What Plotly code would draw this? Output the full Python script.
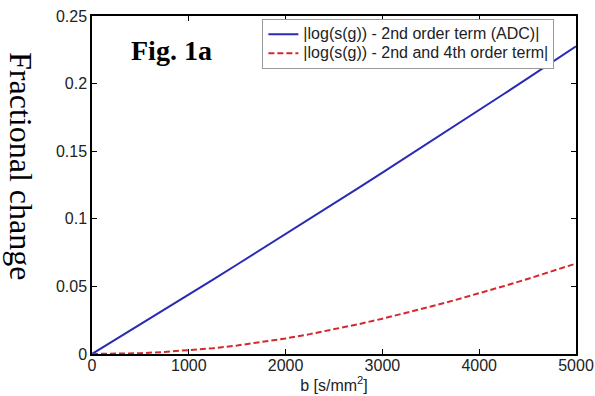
import plotly.graph_objects as go

b_values = [0, 250, 500, 750, 1000, 1250, 1500, 1750, 2000, 2250, 2500,
            2750, 3000, 3250, 3500, 3750, 4000, 4250, 4500, 4750, 5000]
adc_term = [0, 0.0109, 0.0219, 0.0329, 0.0439, 0.0550, 0.0662, 0.0774, 0.0886, 0.0999, 0.1113,
            0.1227, 0.1341, 0.1456, 0.1572, 0.1688, 0.1804, 0.1921, 0.2039, 0.2157, 0.2275]
fourth_term = [0, 0.0001, 0.0006, 0.0015, 0.0027, 0.0043, 0.0063, 0.0087, 0.0115, 0.0147, 0.0182,
               0.0220, 0.0261, 0.0305, 0.0351, 0.0399, 0.0449, 0.0501, 0.0555, 0.0611, 0.0669]

x_ticks = [0, 1000, 2000, 3000, 4000, 5000]
y_ticks = [0, 0.05, 0.1, 0.15, 0.2, 0.25]
y_tick_labels = ["0", "0.05", "0.1", "0.15", "0.2", "0.25"]

name_adc = "|log(s(g)) - 2nd order term (ADC)|"
name_fourth = "|log(s(g)) - 2nd and 4th order term|"


def legend_label(text):
    return '<span style="font-size:16px">' + text + '</span>'


fig = go.Figure()
fig.add_trace(go.Scatter(x=b_values, y=adc_term, mode="lines", name=legend_label(name_adc),
                         line=dict(color="#2a2ab4", width=2)))
fig.add_trace(go.Scatter(x=b_values, y=fourth_term, mode="lines", name=legend_label(name_fourth),
                         line=dict(color="#d4282c", width=2, dash="6px,3px")))

tick_font = dict(family="Liberation Sans, Arial", size=16, color="#222")
axis_common = dict(showline=True, linecolor="black", linewidth=1.5, mirror="ticks",
                   ticks="inside", ticklen=5, tickwidth=1.2, tickcolor="black",
                   showgrid=False, zeroline=False, automargin=False,
                   tickfont=tick_font)

fig.update_layout(
    width=595, height=396,
    margin=dict(l=92, r=19, t=16, b=42),
    paper_bgcolor="white", plot_bgcolor="white",
    xaxis=dict(range=[0, 5000], tickvals=x_ticks, ticklabelstandoff=-4, **axis_common,
               title=dict(text="b [s/mm<sup>2</sup>]", standoff=2,
                          font=dict(family="Liberation Sans, Arial", size=16, color="#222"))),
    yaxis=dict(range=[0, 0.25], tickvals=y_ticks, ticktext=y_tick_labels, **axis_common),
    legend=dict(x=0.352, y=0.992, xanchor="left", yanchor="top",
                bgcolor="white", bordercolor="#999", borderwidth=1,
                font=dict(family="Liberation Sans, Arial", size=11, color="#222"),
                tracegroupgap=0),
    showlegend=True,
    annotations=[
        dict(text="Fractional change", textangle=90, xref="paper", yref="paper",
             x=-0.148, y=0.555, xanchor="center", yanchor="middle", showarrow=False,
             font=dict(family="Liberation Serif, Times New Roman", size=32, color="black")),
        dict(text="<b>Fig. 1a</b>", xref="paper", yref="paper",
             x=0.077, y=0.897, xanchor="left", yanchor="middle", showarrow=False,
             font=dict(family="Liberation Serif, Times New Roman", size=28, color="black")),
    ],
)

fig.write_html("out.html", config={"displayModeBar": False},
               post_script="document.body.style.margin='0';")
